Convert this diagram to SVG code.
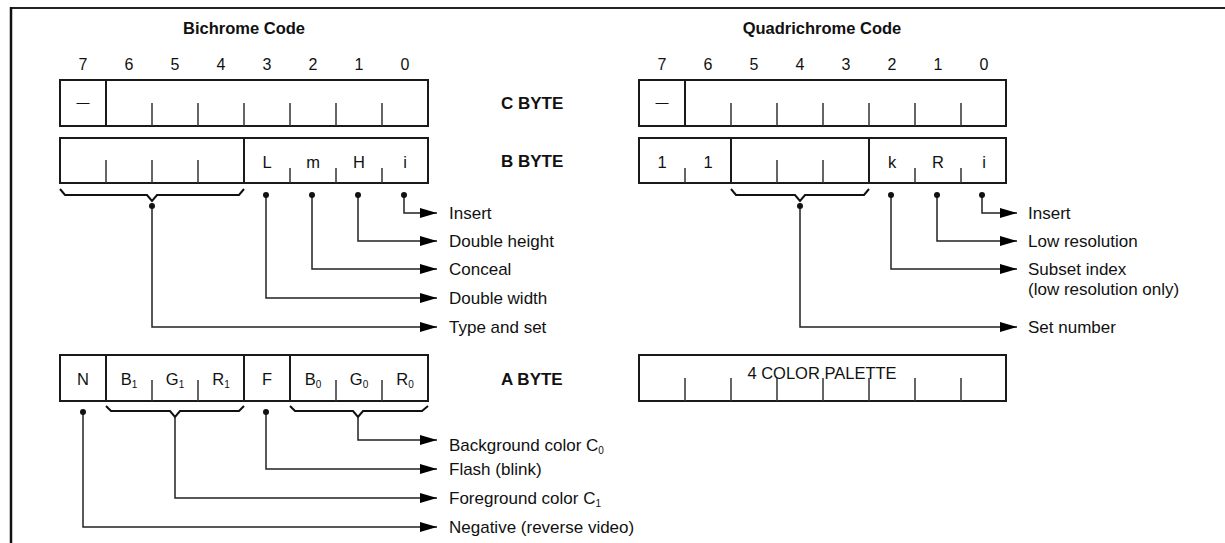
<svg xmlns="http://www.w3.org/2000/svg" width="1225" height="543" viewBox="0 0 1225 543">
<style>
text{font-family:"Liberation Sans",Arial,sans-serif;fill:#111}
.t{font-size:16.5px;font-weight:bold;text-anchor:middle}
.d{font-size:16px;text-anchor:middle}
.c{font-size:16.5px;text-anchor:middle}
.b{font-size:17px;font-weight:bold}
.l{font-size:17px}
.s{font-size:10px}
.box{fill:#fff;stroke:#1a1a1a;stroke-width:2}
.div{stroke:#1a1a1a;stroke-width:2}
.tk{stroke:#333;stroke-width:1.5}
.cn{fill:none;stroke:#222;stroke-width:1.5}
.br{fill:none;stroke:#111;stroke-width:2}
.dot{fill:#111}
</style>
<defs>
<marker id="ah" markerUnits="userSpaceOnUse" markerWidth="18" markerHeight="11" refX="17" refY="5" orient="auto">
<path d="M0,0 L17,5 L0,10 Z" fill="#000"/>
</marker>
</defs>
<g id="frame">
<line x1="10" y1="8" x2="1225" y2="8" stroke="#222" stroke-width="2"/>
<line x1="11" y1="7" x2="11" y2="543" stroke="#111" stroke-width="2.5"/>
</g>
<g id="bichrome-title">
<text class="t" x="244" y="34">Bichrome Code</text>
<text class="d" x="83" y="70">7</text><text class="d" x="129" y="70">6</text><text class="d" x="175" y="70">5</text><text class="d" x="221" y="70">4</text>
<text class="d" x="267" y="70">3</text><text class="d" x="313" y="70">2</text><text class="d" x="359" y="70">1</text><text class="d" x="405" y="70">0</text>
</g>
<g id="quad-title">
<text class="t" x="822" y="34">Quadrichrome Code</text>
<text class="d" x="662" y="70">7</text><text class="d" x="708" y="70">6</text><text class="d" x="754" y="70">5</text><text class="d" x="800" y="70">4</text>
<text class="d" x="846" y="70">3</text><text class="d" x="892" y="70">2</text><text class="d" x="938" y="70">1</text><text class="d" x="984" y="70">0</text>
</g>
<g id="byte-labels">
<text class="b" x="501" y="109">C BYTE</text>
<text class="b" x="501" y="167">B BYTE</text>
<text class="b" x="501" y="385">A BYTE</text>
</g>
<g id="bi-c-byte">
<rect class="box" x="60" y="80" width="368" height="46"/>
<line class="div" x1="106" y1="80" x2="106" y2="126"/>
<path class="tk" d="M152,103V126M198,103V126M244,103V126M290,103V126M336,103V126M382,103V126"/>
<text class="c" x="83" y="107" style="font-size:13px">—</text>
</g>
<g id="bi-b-byte">
<rect class="box" x="60" y="138" width="368" height="45"/>
<line class="div" x1="244" y1="138" x2="244" y2="183"/>
<path class="tk" d="M106,160V183M152,160V183M198,160V183M290,168V183M336,168V183M382,168V183"/>
<text class="c" x="267" y="168">L</text><text class="c" x="313" y="168">m</text><text class="c" x="359" y="168">H</text><text class="c" x="405" y="168">i</text>
</g>
<g id="bi-a-byte">
<rect class="box" x="60" y="355" width="368" height="46"/>
<path class="div" d="M106,355V401M244,355V401M290,355V401"/>
<path class="tk" d="M152,380V401M198,380V401M336,380V401M382,380V401"/>
<text class="c" x="83" y="385">N</text>
<text class="c" x="129" y="385">B<tspan class="s" dy="3">1</tspan></text>
<text class="c" x="175" y="385">G<tspan class="s" dy="3">1</tspan></text>
<text class="c" x="221" y="385">R<tspan class="s" dy="3">1</tspan></text>
<text class="c" x="267" y="385">F</text>
<text class="c" x="313" y="385">B<tspan class="s" dy="3">0</tspan></text>
<text class="c" x="359" y="385">G<tspan class="s" dy="3">0</tspan></text>
<text class="c" x="405" y="385">R<tspan class="s" dy="3">0</tspan></text>
</g>
<g id="q-c-byte">
<rect class="box" x="639" y="80" width="367" height="46"/>
<line class="div" x1="685" y1="80" x2="685" y2="126"/>
<path class="tk" d="M731,103V126M777,103V126M823,103V126M869,103V126M915,103V126M961,103V126"/>
<text class="c" x="662" y="107" style="font-size:13px">—</text>
</g>
<g id="q-b-byte">
<rect class="box" x="639" y="138" width="367" height="45"/>
<path class="div" d="M731,138V183M869,138V183"/>
<path class="tk" d="M685,168V183M777,160V183M823,160V183M915,168V183M961,168V183"/>
<text class="c" x="662" y="168">1</text><text class="c" x="708" y="168">1</text>
<text class="c" x="892" y="168">k</text><text class="c" x="938" y="168">R</text><text class="c" x="984" y="168">i</text>
</g>
<g id="q-a-byte">
<rect class="box" x="639" y="355" width="367" height="46"/>
<path class="tk" d="M685,378V401M731,378V401M777,378V401M823,378V401M869,378V401M915,378V401M961,378V401"/>
<text class="c" x="822" y="379">4 COLOR PALETTE</text>
</g>
<g id="braces">
<path class="br" d="M60,189 L65,195 H147 L152,201 L157,195 H239 L244,189"/>
<path class="br" d="M731,189 L736,195 H795 L800,201 L805,195 H864 L869,189"/>
<path class="br" d="M106,406 L111,411 H170 L175,417 L180,411 H239 L244,406"/>
<path class="br" d="M290,406 L295,411 H353 L358,417 L363,411 H422 L428,406"/>
</g>
<g id="connectors">
<path class="cn" marker-end="url(#ah)" d="M404,195 V213 H437"/>
<path class="cn" marker-end="url(#ah)" d="M358,195 V241 H437"/>
<path class="cn" marker-end="url(#ah)" d="M312,195 V269 H437"/>
<path class="cn" marker-end="url(#ah)" d="M266,195 V298 H437"/>
<path class="cn" marker-end="url(#ah)" d="M152,206 V327 H437"/>
<path class="cn" marker-end="url(#ah)" d="M982,195 V213 H1017"/>
<path class="cn" marker-end="url(#ah)" d="M937,195 V241 H1017"/>
<path class="cn" marker-end="url(#ah)" d="M891,195 V269 H1017"/>
<path class="cn" marker-end="url(#ah)" d="M800,206 V327 H1017"/>
<path class="cn" marker-end="url(#ah)" d="M358,417 V440 H437"/>
<path class="cn" marker-end="url(#ah)" d="M266,412 V469 H437"/>
<path class="cn" marker-end="url(#ah)" d="M175,417 V498 H437"/>
<path class="cn" marker-end="url(#ah)" d="M83,412 V527 H437"/>
<circle class="dot" cx="404" cy="195" r="3"/>
<circle class="dot" cx="358" cy="195" r="3"/>
<circle class="dot" cx="312" cy="195" r="3"/>
<circle class="dot" cx="266" cy="195" r="3"/>
<circle class="dot" cx="152" cy="206" r="3"/>
<circle class="dot" cx="982" cy="195" r="3"/>
<circle class="dot" cx="937" cy="195" r="3"/>
<circle class="dot" cx="891" cy="195" r="3"/>
<circle class="dot" cx="800" cy="206" r="3"/>
<circle class="dot" cx="266" cy="412" r="3"/>
<circle class="dot" cx="83" cy="412" r="3"/>
</g>
<g id="labels">
<text class="l" x="449" y="219">Insert</text>
<text class="l" x="449" y="247">Double height</text>
<text class="l" x="449" y="275">Conceal</text>
<text class="l" x="449" y="304">Double width</text>
<text class="l" x="449" y="333">Type and set</text>
<text class="l" x="1028" y="219">Insert</text>
<text class="l" x="1028" y="247">Low resolution</text>
<text class="l" x="1028" y="275">Subset index</text>
<text class="l" x="1028" y="295">(low resolution only)</text>
<text class="l" x="1028" y="333">Set number</text>
<text class="l" x="449" y="451">Background color C<tspan class="s" dy="3">0</tspan></text>
<text class="l" x="449" y="475">Flash (blink)</text>
<text class="l" x="449" y="504">Foreground color C<tspan class="s" dy="3">1</tspan></text>
<text class="l" x="449" y="533">Negative (reverse video)</text>
</g>
</svg>
